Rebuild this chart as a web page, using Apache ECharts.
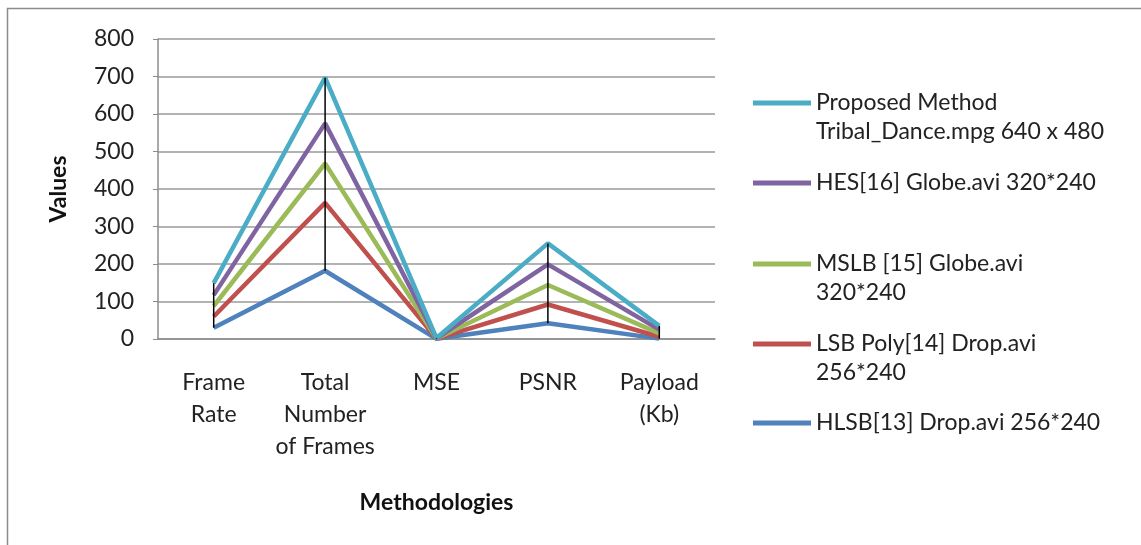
<!DOCTYPE html>
<html>
<head>
<meta charset="utf-8">
<script src="https://cdn.jsdelivr.net/npm/echarts@6/dist/echarts.min.js"></script>
<style>
  html, body { margin: 0; padding: 0; background: #fff; }
  #main { width: 1141px; height: 545px; }
</style>
</head>
<body>
<div id="main"></div>
<script type="text/javascript">
// categories on the x axis
var categories = ['Frame\nRate', 'Total\nNumber\nof Frames', 'MSE', 'PSNR', 'Payload\n(Kb)'];
var yTicks = [0, 100, 200, 300, 400, 500, 600, 700, 800];

// stacked line values (each series is added on top of the previous one)
var hlsb     = [30, 182, 0.5, 42, 1];
var lsbPoly  = [30, 181, 0.5, 50, 5];
var mslb     = [28, 105, 0.5, 52, 9];
var hes      = [29, 107, 0.5, 55, 10];
var proposed = [32, 122, 0.5, 56, 10];

var names = [
    'HLSB[13] Drop.avi 256*240',
    'LSB Poly[14] Drop.avi\n256*240',
    'MSLB [15] Globe.avi\n320*240',
    'HES[16] Globe.avi 320*240',
    'Proposed Method\nTribal_Dance.mpg 640 x 480'
];
var colors = ['#4f81bd', '#c0504d', '#9bbb59', '#8064a2', '#4bacc6'];
var values = [hlsb, lsbPoly, mslb, hes, proposed];

(function(){
    var myChart = echarts.init(document.getElementById('main'));
    var font = 'Lato, "Open Sans", sans-serif';

    // high-low line: from the lowest series to the stacked top
    var hiLo = categories.map(function (c, i) {
        var top = 0;
        values.forEach(function (v) { top += v[i]; });
        return [i, hlsb[i], top];
    });

    var series = values.map(function (v, k) {
        return {
            name: names[k],
            type: 'line',
            stack: 'total',
            data: v,
            symbol: 'none',
            lineStyle: { width: 4.5, color: colors[k] },
            itemStyle: { color: colors[k] },
            z: 2
        };
    });
    series.push({
        name: 'hilo',
        type: 'custom',
        data: hiLo,
        z: 5,
        renderItem: function (params, api) {
            var a = api.coord([api.value(0), api.value(1)]);
            var b = api.coord([api.value(0), api.value(2)]);
            return {
                type: 'line',
                shape: { x1: a[0], y1: a[1], x2: b[0], y2: b[1] },
                style: { stroke: '#000', lineWidth: 1.5 }
            };
        }
    });

    // one legend per entry so the icon sits next to the first text line
    var lineH = 29;
    var iconY = [98, 178, 259, 339, 418];
    var legendOrder = [4, 3, 2, 1, 0];
    var legends = legendOrder.map(function (k, j) {
        var twoLines = names[k].indexOf('\n') >= 0;
        return {
            data: [names[k]],
            left: 748,
            top: twoLines ? iconY[j] - 1.5 * lineH : iconY[j] - lineH / 2,
            orient: 'vertical',
            itemWidth: 58,
            itemHeight: 5,
            icon: 'rect',
            // an empty first line keeps the icon level with the first text line
            formatter: function (name) {
                return name.indexOf('\n') >= 0 ? ' \n' + name : name;
            },
            textStyle: { fontFamily: font, fontSize: 23, color: '#222', lineHeight: lineH }
        };
    });

    var option = {
        animation: false,
        backgroundColor: '#fff',
        graphic: [{
            type: 'rect',
            shape: { x: 7.5, y: 8.5, width: 1160, height: 560 },
            style: { fill: 'none', stroke: '#8c8c8c', lineWidth: 1.5 },
            silent: true
        }],
        legend: legends,
        grid: { left: 158, right: 426, top: 39, bottom: 206 },
        xAxis: {
            type: 'category',
            data: categories,
            boundaryGap: true,
            name: 'Methodologies',
            nameLocation: 'middle',
            nameGap: 152,
            nameTextStyle: { fontFamily: font, fontSize: 23, fontWeight: 'bold', color: '#111' },
            axisLine: { lineStyle: { color: '#8c8c8c', width: 1.5 } },
            axisTick: { show: false },
            axisLabel: {
                fontFamily: font, fontSize: 23, color: '#222',
                lineHeight: 32, margin: 28, interval: 0
            }
        },
        yAxis: {
            type: 'value',
            min: yTicks[0],
            max: yTicks[yTicks.length - 1],
            interval: 100,
            name: 'Values',
            nameLocation: 'middle',
            nameRotate: 90,
            nameGap: 88,
            nameTextStyle: { fontFamily: font, fontSize: 23, fontWeight: 'bold', color: '#111' },
            axisLine: { show: true, lineStyle: { color: '#8c8c8c', width: 1.5 } },
            axisTick: { show: true, length: 5, lineStyle: { color: '#8c8c8c' } },
            axisLabel: { fontFamily: font, fontSize: 23, color: '#222', margin: 24 },
            splitLine: { lineStyle: { color: '#9a9a9a', width: 1.5 } }
        },
        series: series
    };

    myChart.setOption(option);
})();
</script>
</body>
</html>
